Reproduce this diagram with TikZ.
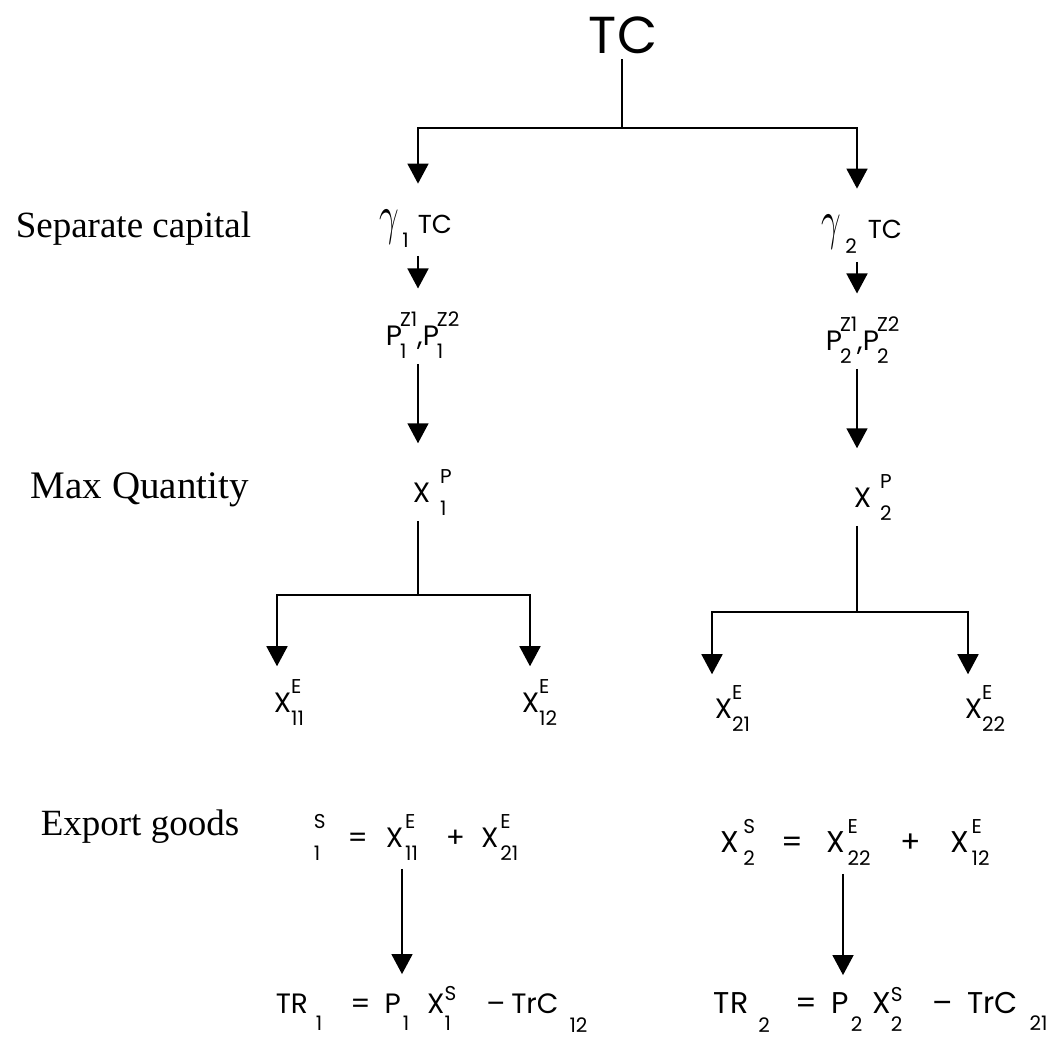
\documentclass[tikz,border=0pt]{standalone}
\usepackage{graphicx}
\usepackage{fontspec}
\setmainfont{Liberation Serif}
\newfontfamily\gothic{Poppins}
\usetikzlibrary{arrows.meta}
% sub- and superscripts as the picture sets them
\newcommand\scr{\fontsize{20}{22}\selectfont}
\newcommand\dn[2][13pt]{\raisebox{-#1}{\scr #2}}
\newcommand\hi[2][19pt]{\raisebox{#1}{\scr #2}}
\newcommand\udd[4]{\ooalign{\hi[#1]{#2}\cr\dn[#3]{#4}\cr}}
\newcommand\ud[2]{\udd{19pt}{#1}{13pt}{#2}}
\newcommand\gam{\scalebox{1.4}[2.2]{$\gamma$}}
\tikzset{
  eq/.style={font=\gothic\fontsize{28}{30}\selectfont, inner sep=0pt, anchor=base west},
  side/.style={font=\fontsize{37}{40}\selectfont, inner sep=0pt, anchor=base west},
  arr/.style={-{Triangle[width=21pt,length=20pt]}}
}
\begin{document}
\begin{tikzpicture}[x=1pt, y=-1pt, line width=1.6pt]
  \useasboundingbox (0,0) rectangle (1048,1038);
  % columns of the connectors
  \coordinate (c1) at (418,0);
  \coordinate (c2) at (857,0);
  \coordinate (c3) at (277,0);
  \coordinate (c4) at (530,0);
  \coordinate (c5) at (402,0);
  \coordinate (c6) at (843,0);
  \coordinate (c7) at (712,0);
  \coordinate (c8) at (968,0);
  % side labels
  \node[side] (lsep) at (15,237) {Separate capital};
  \node[side, font=\fontsize{39}{42}\selectfont] (lmax) at (30,498) {Max Quantity};
  \node[side] (lexp) at (40,835) {Export goods};
  % total capital
  \node[eq, anchor=center, font=\gothic\fontsize{52}{56}\selectfont] (tc) at (623,35) {TC};
  \node[eq, font=\gothic\fontsize{26}{28}\selectfont] (g1) at (379,233) {\gam\hspace{3pt}\dn[14pt]{1}\hspace{9pt}TC};
  \node[eq, font=\gothic\fontsize{26}{28}\selectfont] (g2) at (821,238) {\gam\hspace{4pt}\dn[15pt]{2}\hspace{11pt}TC};
  \node[eq] (p1) at (385,345) {P\hspace{-2pt}\ud{Z1}{1},P\hspace{-2pt}\ud{Z2}{1}};
  \node[eq] (p2) at (825,350) {P\hspace{-2pt}\ud{Z1}{2},P\hspace{-2pt}\ud{Z2}{2}};
  \node[eq] (x1p) at (412,502) {X\hspace{10pt}\ud{P}{1}};
  \node[eq] (x2p) at (853,507) {X\hspace{9pt}\ud{P}{2}};
  % export quantities
  \node[eq] (x11) at (273,712) {X\ud{E}{11}};
  \node[eq] (x12) at (521,712) {X\ud{E}{12}};
  \node[eq] (x21) at (714,718) {X\ud{E}{21}};
  \node[eq] (x22) at (964,718) {X\ud{E}{22}};
  % goods and revenue
  \node[eq] (ex1) at (313,847) {\ud{S}{1}\hspace{22pt}=\hspace{18pt}X\hspace{2pt}\ud{E}{11}\hspace{28pt}+\hspace{16pt}X\hspace{2pt}\ud{E}{21}};
  \node[eq, font=\gothic\fontsize{30}{32}\selectfont] (ex2) at (720,852) {X\hspace{4pt}\ud{S}{2}\hspace{26pt}=\hspace{24pt}X\hspace{2pt}\ud{E}{22}\hspace{30pt}+\hspace{30pt}X\hspace{2pt}\ud{E}{12}};
  \node[eq] (tr1) at (275,1013) {TR\hspace{8pt}\dn[17pt]{1}\hspace{28pt}=\hspace{14pt}P\hspace{2pt}\dn[17pt]{1}\hspace{18pt}X\udd{13pt}{S}{17pt}{1}\hspace{30pt}–\hspace{6pt}TrC\hspace{11pt}\dn[19pt]{12}};
  \node[eq, font=\gothic\fontsize{30}{32}\selectfont] (tr2) at (713,1013) {TR\hspace{10pt}\dn[19pt]{2}\hspace{26pt}=\hspace{14pt}P\hspace{2pt}\dn[18pt]{2}\hspace{10pt}X\udd{12pt}{S}{18pt}{2}\hspace{30pt}–\hspace{14pt}TrC\hspace{12pt}\dn[17pt]{21}};
  % splits
  \coordinate (s0) at (622,128);
  \coordinate (s1) at (418,595);
  \coordinate (s2) at (857,612);
  \draw[shorten <=5pt] (s0 |- tc.south) -- (s0);
  \draw[arr, shorten >=25pt] (s0) -| (c1 |- g1.north);
  \draw[arr, shorten >=25pt] (s0) -| (c2 |- g2.north);
  \draw[arr, shorten <=8pt, shorten >=22pt] (c1 |- g1.south) -- (c1 |- p1.north);
  \draw[arr, shorten <=8pt, shorten >=22pt] (c2 |- g2.south) -- (c2 |- p2.north);
  \draw[arr, shorten <=5pt, shorten >=25pt] (c1 |- p1.south) -- (c1 |- x1p.north);
  \draw[arr, shorten <=5pt, shorten >=25pt] (c2 |- p2.south) -- (c2 |- x2p.north);
  \draw[shorten <=5pt] (c1 |- x1p.south) -- (s1);
  \draw[shorten <=5pt] (c2 |- x2p.south) -- (s2);
  \draw[arr, shorten >=12pt] (s1) -| (c3 |- x11.north);
  \draw[arr, shorten >=12pt] (s1) -| (c4 |- x12.north);
  \draw[arr, shorten >=10pt] (s2) -| (c7 |- x21.north);
  \draw[arr, shorten >=10pt] (s2) -| (c8 |- x22.north);
  \draw[arr, shorten <=8pt, shorten >=11pt] (c5 |- ex1.south) -- (c5 |- tr1.north);
  \draw[arr, shorten <=8pt, shorten >=11pt] (c6 |- ex2.south) -- (c6 |- tr2.north);
\end{tikzpicture}
\end{document}
